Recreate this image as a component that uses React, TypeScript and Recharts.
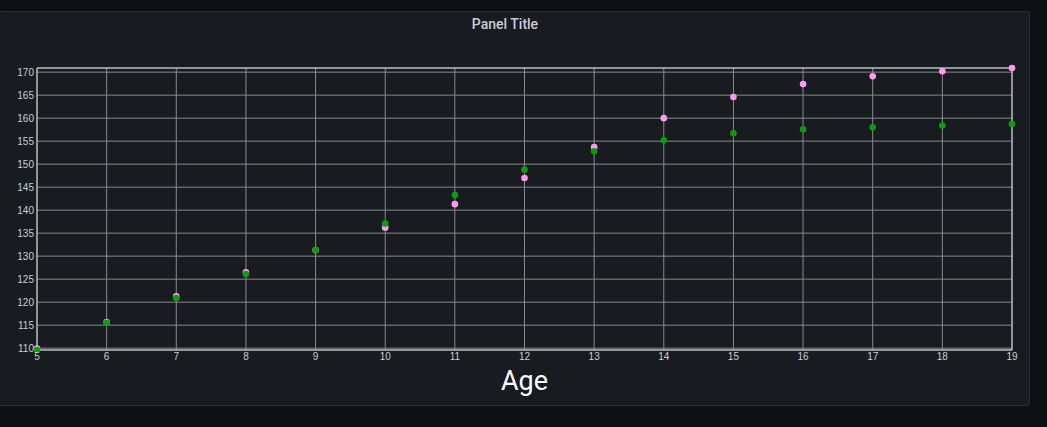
import React from "react";
import {
  CartesianGrid,
  ReferenceArea,
  Scatter,
  ScatterChart,
  XAxis,
  YAxis,
} from "recharts";

const ages = [5, 6, 7, 8, 9, 10, 11, 12, 13, 14, 15, 16, 17, 18, 19];
const pinkHeights = [109.9, 115.7, 121.3, 126.5, 131.3, 136.2, 141.3, 147.0, 153.7, 160.0, 164.6, 167.4, 169.1, 170.2, 170.9];
const greenHeights = [109.6, 115.5, 120.9, 126.1, 131.3, 137.1, 143.3, 148.8, 152.8, 155.2, 156.7, 157.6, 158.0, 158.4, 158.7];
const yTicks = [110, 115, 120, 125, 130, 135, 140, 145, 150, 155, 160, 165, 170];

const pinkData = ages.map((age, i) => ({ age, height: pinkHeights[i] }));
const greenData = ages.map((age, i) => ({ age, height: greenHeights[i] }));

const tickStyle = { fill: "#c7d0d9", fontSize: 10, fontFamily: "Liberation Sans, Arial, sans-serif" };

export default function App() {
  return (
    <div
      style={{
        position: "fixed",
        left: 0,
        top: 0,
        width: 1047,
        height: 427,
        background: "#0e0f12",
        overflow: "hidden",
        fontFamily: "Roboto, sans-serif",
      }}
    >
      <div
        style={{
          position: "absolute",
          left: -1,
          top: 11,
          width: 1031,
          height: 395,
          background: "#181b1f",
          border: "1px solid #2a2d33",
          borderRadius: 2,
          boxSizing: "border-box",
        }}
      />
      <div
        style={{
          position: "absolute",
          left: 0,
          top: 16,
          width: 1010,
          textAlign: "center",
          color: "#ccccdc",
          fontSize: 14,
          fontWeight: 500,
        }}
      >
        Panel Title
      </div>
      <div style={{ position: "absolute", left: 0, top: 0 }}>
        <ScatterChart
          width={1047}
          height={427}
          margin={{ top: 68, right: 35, bottom: 57, left: 0 }}
        >
          <CartesianGrid stroke="#8a8a8a" strokeWidth={1} />
          <XAxis
            type="number"
            dataKey="age"
            domain={[5, 19]}
            ticks={ages}
            tickLine={false}
            tickSize={0}
            tickMargin={3}
            axisLine={false}
            tick={tickStyle}
            height={20}
          />
          <YAxis
            type="number"
            dataKey="height"
            domain={["dataMin", "dataMax"]}
            ticks={yTicks}
            tickLine={false}
            tickSize={0}
            tickMargin={3}
            axisLine={false}
            tick={tickStyle}
            width={37}
          />
          <ReferenceArea x1={5} x2={19} fill="none" stroke="#d8d8d8" strokeWidth={1} ifOverflow="extendDomain" />
          <Scatter data={pinkData} fill="#ff9af0" isAnimationActive={false} shape={<Dot />} />
          <Scatter data={greenData} fill="#0e9a12" isAnimationActive={false} shape={<Dot />} />
        </ScatterChart>
      </div>
      <div
        style={{
          position: "absolute",
          left: 37,
          top: 363,
          width: 975,
          textAlign: "center",
          color: "#ffffff",
          fontSize: 27,
          lineHeight: "36px",
        }}
      >
        Age
      </div>
    </div>
  );
}

function Dot(props: any) {
  const { cx, cy, fill } = props;
  if (cx == null || cy == null) return null;
  return <circle cx={cx} cy={cy} r={3.3} fill={fill} />;
}
